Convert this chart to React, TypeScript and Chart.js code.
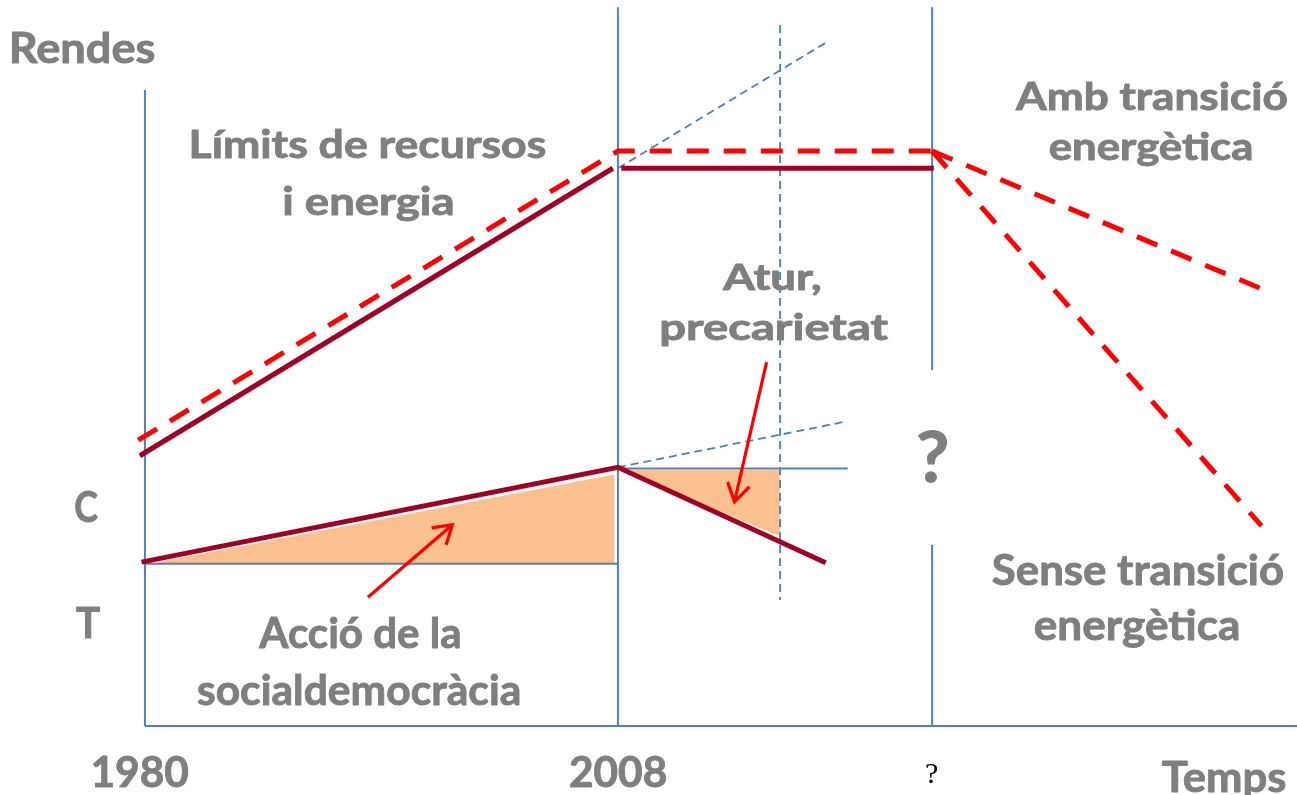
import { useEffect, useRef } from "react";
import { Chart, registerables } from "chart.js";

Chart.register(...registerables);

const W = 1297;
const H = 795;

// Scale ranges (years on x, income index on y)
const X_MIN = 1971.42;
const X_MAX = 2048.2;
const Y_MIN = -12;
const Y_MAX = 126.26;

// Ticks
const xTickYears = [1980, 2008, 2026.6];
const xTickLabels = ["1980", "2008", "?"];

// Limit of resources & energy (red dashed)
const limitYears = [1979.6, 2008, 2026.6];
const limitIncome = [49.7, 100, 100];
const ambYears = [2026.6, 2046.3];
const ambIncome = [100, 75.8];
const senseYears = [2026.6, 2046.1];
const senseIncome = [100, 34.8];

// Capital income (dark red)
const capitalYearsA = [1979.7, 2007.7];
const capitalIncomeA = [47.0, 97.0];
const capitalYearsB = [2008.2, 2026.7];
const capitalIncomeB = [97.0, 97.0];

// Labour income (dark red)
const labourYears = [1979.8, 2008.0, 2020.3];
const labourIncome = [28.5, 45.0, 28.4];

// Trend projections (blue dashed)
const capitalTrendYears = [2008, 2020.4];
const capitalTrendIncome = [97.0, 119.0];
const labourTrendYears = [2008, 2021.4];
const labourTrendIncome = [45.0, 52.9];

// Reference levels
const levelT = 28.2;
const levelC = 44.8;

// Shaded areas
const socialYears = [1980.3, 2007.8];
const socialIncome = [28.2, 43.8];
const aturYears = [2008.2, 2017.6];
const aturTopIncome = [44.5, 44.5];
const aturBottomIncome = [44.3, 33.0];

// Vertical markers
const markerDashedYear = 2017.6;
const markerDashedRange = [121.9, 21.9];
const axisTop = 110.6;
const verticalTop = 125.0;
const unknownGapRange = [61.9, 31.5];

const BLUE = "#4F81BD";
const RED = "#FF0000";
const DARK = "#A00025";
const ORANGE = "#FAC090";
const GRAY = "#7F7F7F";

const pts = (xs: number[], ys: number[]) => xs.map((x, i) => ({ x, y: ys[i] }));

type Txt = { text: string; x: number; y: number; size: number; w?: number; family?: string; color?: string; bold?: boolean };

const textLabels: Txt[] = [
  { text: "Rendes", x: 1976.36, y: 115.3, size: 42, w: 143 },
  { text: "Límits de recursos", x: 1993.23, y: 98.78, size: 39, w: 353 },
  { text: "i energia", x: 1993.2, y: 88.87, size: 39, w: 169 },
  { text: "Amb transició", x: 2039.55, y: 107.13, size: 38, w: 272 },
  { text: "energètica", x: 2039.55, y: 98.43, size: 38, w: 202 },
  { text: "Atur,", x: 2017.06, y: 75.83, size: 36, w: 98 },
  { text: "precarietat", x: 2017.32, y: 67.13, size: 36, w: 227 },
  { text: "?", x: 2026.62, y: 42.43, size: 70, w: 29 },
  { text: "C", x: 1976.54, y: 35.48, size: 42, w: 23 },
  { text: "T", x: 1976.63, y: 15.3, size: 42, w: 24 },
  { text: "Sense transició", x: 2038.75, y: 24.52, size: 42, w: 291 },
  { text: "energètica", x: 2038.69, y: 14.96, size: 42, w: 203 },
  { text: "Acció de la", x: 1992.66, y: 13.57, size: 42, w: 201 },
  { text: "socialdemocràcia", x: 1992.64, y: 3.65, size: 42, w: 321 },
  { text: "Temps", x: 2043.87, y: -11.4, size: 42, w: 124 },
];

const tickLabelY = -10.61;

type Arrow = { from: [number, number]; to: [number, number] };
const arrows: Arrow[] = [
  { from: [1993.2, 22.4], to: [1998.2, 35.0] },
  { from: [2016.8, 63.3], to: [2014.9, 39.0] },
];

const lineDs = (data: { x: number; y: number }[], color: string, width: number, dash: number[] = [], order = 0, extra: any = {}) => ({
  data,
  showLine: true,
  borderColor: color,
  borderWidth: width,
  borderDash: dash,
  pointRadius: 0,
  pointHoverRadius: 0,
  fill: false,
  tension: 0,
  order,
  borderCapStyle: "butt",
  borderJoinStyle: "miter",
  ...extra,
});

const textPlugin = {
  id: "diagramText",
  afterDraw(chart: any) {
    const { ctx, scales } = chart;
    const xs = scales.x;
    const ys = scales.y;
    const drawText = (t: Txt) => {
      ctx.save();
      const fam = t.family || "Lato";
      const bold = t.bold !== false;
      ctx.font = `${bold ? "bold " : ""}${t.size}px ${fam}`;
      ctx.textAlign = "left";
      ctx.textBaseline = "alphabetic";
      const m = ctx.measureText(t.text);
      const inkL = m.actualBoundingBoxLeft;
      const inkR = m.actualBoundingBoxRight;
      const ink = inkL + inkR;
      const sx = t.w ? t.w / ink : 1;
      const cOff = (inkR - inkL) / 2;
      ctx.translate(xs.getPixelForValue(t.x), ys.getPixelForValue(t.y));
      ctx.scale(sx, 1);
      ctx.fillStyle = t.color || GRAY;
      ctx.fillText(t.text, -cOff, 0);
      if (bold) {
        ctx.strokeStyle = t.color || GRAY;
        ctx.lineWidth = 0.9;
        ctx.lineJoin = "round";
        ctx.strokeText(t.text, -cOff, 0);
      }
      ctx.restore();
    };
    textLabels.forEach(drawText);
    xTickYears.forEach((yr, i) => {
      const isQ = xTickLabels[i] === "?";
      drawText(
        isQ
          ? { text: xTickLabels[i], x: yr, y: tickLabelY + 0.7, size: 30, family: "'Liberation Serif'", color: "#000000", bold: false }
          : { text: xTickLabels[i], x: yr - (i === 0 ? 0.26 : 0), y: tickLabelY, size: 42, w: 96 }
      );
    });
    // arrows
    arrows.forEach((a) => {
      const x1 = xs.getPixelForValue(a.from[0]);
      const y1 = ys.getPixelForValue(a.from[1]);
      const x2 = xs.getPixelForValue(a.to[0]);
      const y2 = ys.getPixelForValue(a.to[1]);
      const ang = Math.atan2(y1 - y2, x1 - x2);
      const L = 21;
      const half = (32 * Math.PI) / 180;
      ctx.save();
      ctx.strokeStyle = RED;
      ctx.lineWidth = 3.2;
      ctx.lineCap = "butt";
      ctx.lineJoin = "miter";
      ctx.beginPath();
      ctx.moveTo(x1, y1);
      ctx.lineTo(x2, y2);
      ctx.stroke();
      ctx.beginPath();
      ctx.moveTo(x2 + L * Math.cos(ang + half), y2 + L * Math.sin(ang + half));
      ctx.lineTo(x2, y2);
      ctx.lineTo(x2 + L * Math.cos(ang - half), y2 + L * Math.sin(ang - half));
      ctx.stroke();
      ctx.restore();
    });
  },
};

export default function App() {
  const ref = useRef<HTMLCanvasElement | null>(null);
  useEffect(() => {
    if (!ref.current) return;
    const T = "rgba(0,0,0,0)";
    const datasets: any[] = [
      // Fills
      lineDs(pts(socialYears, socialIncome), T, 0, [], 9, { fill: { value: levelT }, backgroundColor: ORANGE }),
      lineDs(pts(aturYears, aturTopIncome), T, 0, [], 9, { fill: "+1", backgroundColor: ORANGE }),
      lineDs(pts(aturYears, aturBottomIncome), T, 0, [], 9),
      // Blue structure
      lineDs(pts([1980, 1980], [axisTop, 0]), BLUE, 2, [], 5),
      lineDs(pts([1980, X_MAX], [0, 0]), BLUE, 2, [], 5),
      lineDs(pts([2008, 2008], [verticalTop, 0]), BLUE, 2, [], 5),
      lineDs(pts([2026.6, 2026.6], [verticalTop, unknownGapRange[0]]), BLUE, 2, [], 5),
      lineDs(pts([2026.6, 2026.6], [unknownGapRange[1], 0]), BLUE, 2, [], 5),
      lineDs(pts([1980, 2008], [levelT, levelT]), BLUE, 2, [], 5),
      lineDs(pts([2008, 2021.6], [levelC, levelC]), BLUE, 2, [], 5),
      lineDs(pts([markerDashedYear, markerDashedYear], markerDashedRange), BLUE, 1.8, [8, 5], 5),
      lineDs(pts(capitalTrendYears, capitalTrendIncome), BLUE, 1.8, [8, 5], 5),
      lineDs(pts(labourTrendYears, labourTrendIncome), BLUE, 1.8, [8, 5], 5),
      // Dark red incomes
      lineDs(pts(capitalYearsA, capitalIncomeA), DARK, 5, [], 2),
      lineDs(pts(capitalYearsB, capitalIncomeB), DARK, 5, [], 2),
      lineDs(pts(labourYears, labourIncome), DARK, 5, [], 2),
      // Red dashed limits
      lineDs(pts(limitYears, limitIncome), RED, 5, [22, 15], 1),
      lineDs(pts(ambYears, ambIncome), RED, 5, [22, 15], 1),
      lineDs(pts(senseYears, senseIncome), RED, 5, [22, 15], 1),
    ];
    const chart = new Chart(ref.current, {
      type: "scatter",
      data: { datasets },
      options: {
        animation: false,
        responsive: false,
        events: [],
        layout: { padding: 0 },
        plugins: { legend: { display: false }, tooltip: { enabled: false } },
        scales: {
          x: { type: "linear", min: X_MIN, max: X_MAX, display: false },
          y: { type: "linear", min: Y_MIN, max: Y_MAX, display: false },
        },
      },
      plugins: [textPlugin],
    } as any);
    return () => chart.destroy();
  }, []);
  return (
    <div style={{ position: "absolute", left: 0, top: 0, width: W, height: H, background: "#ffffff" }}>
      <canvas ref={ref} width={W} height={H} style={{ display: "block" }} />
    </div>
  );
}
